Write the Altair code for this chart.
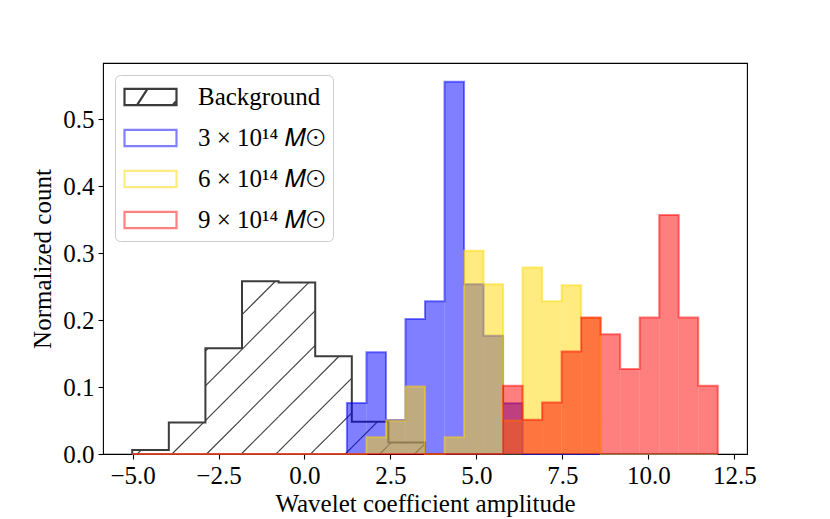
import altair as alt
import numpy as np
import pandas as pd

# ---------------- data ----------------
range_lo = -5.01
range_hi = 12.02

series_names = ["Background", "3 × 10¹⁴ 𝑀⊙", "6 × 10¹⁴ 𝑀⊙", "9 × 10¹⁴ 𝑀⊙"]

# 16 bins over [range_lo, range_hi]
background = [0.006, 0.047, 0.158, 0.258, 0.256, 0.146, 0.048, 0.017,
              0.0, 0.0, 0.0, 0.0, 0.0, 0.0, 0.0, 0.0]

# 30 bins over [range_lo, range_hi]
mass3 = [0.0, 0.0, 0.0, 0.0, 0.0, 0.0, 0.0, 0.0, 0.0, 0.0,
         0.0, 0.076, 0.152, 0.0506, 0.2015, 0.228, 0.556, 0.2537, 0.1766, 0.0759,
         0.0, 0.0, 0.0, 0.0, 0.0, 0.0, 0.0, 0.0, 0.0, 0.0]
mass6 = [0.0, 0.0, 0.0, 0.0, 0.0, 0.0, 0.0, 0.0, 0.0, 0.0,
         0.0, 0.0, 0.025, 0.050, 0.101, 0.0, 0.025, 0.3035, 0.2537, 0.050,
         0.2785, 0.228, 0.252, 0.203, 0.0, 0.0, 0.0, 0.0, 0.0, 0.0]
mass9 = [0.0, 0.0, 0.0, 0.0, 0.0, 0.0, 0.0, 0.0, 0.0, 0.0,
         0.0, 0.0, 0.0, 0.0, 0.0, 0.0, 0.0, 0.0, 0.0, 0.102,
         0.051, 0.077, 0.153, 0.204, 0.179, 0.127, 0.204, 0.357, 0.204, 0.102]

x_ticks = [-5.0, -2.5, 0.0, 2.5, 5.0, 7.5, 10.0, 12.5]
y_ticks = [0.0, 0.1, 0.2, 0.3, 0.4, 0.5]

# ---------------- layout / style ----------------
W, H = 644, 391
x_dom = [-5.86, 12.87]
y_dom = [0.0, 0.584]
FONT = "Liberation Serif"
FS = 25

colors = {"blue": "#0000ff", "gold": "#ffd700", "red": "#ff0000", "edge": "#3c3c3c"}
legend_strokes = ["#3c3c3c", "#8080ff", "#ffeb80", "#ff8080"]

sym_rect = "M-1,-0.65H3.16V0.65H-1Z"
sym_hatch = "M-1,-0.65H3.16V0.65H-1Z M0,0.65L0.84,-0.65 M2.84,0.65L3.11,0.36"


def edges(n):
    return np.linspace(range_lo, range_hi, n + 1)


def bars_df(vals):
    e = edges(len(vals))
    return pd.DataFrame({"a": e[:-1], "b": e[1:], "h": vals})


def step_df(vals):
    e = edges(len(vals))
    xs = [e[0]] + list(e[:-1]) + [e[-1]]
    ys = [0.0] + list(vals) + [0.0]
    return pd.DataFrame({"x": xs, "y": ys, "i": range(len(xs))})


def hatch_df(vals, spacing=1.008, start=-3.855):
    e = edges(len(vals))
    s = (W / (x_dom[1] - x_dom[0])) / (H / (y_dom[1] - y_dom[0]))
    cs = start + spacing * np.arange(-3, 12)
    rows = []
    for a, b, h in zip(e[:-1], e[1:], vals):
        if h <= 0:
            continue
        for c in cs:
            xs0 = max(a, c)
            xs1 = min(b, c + h / s)
            if xs0 < xs1:
                rows.append({"x": xs0, "y": s * (xs0 - c), "x2": xs1, "y2": s * (xs1 - c)})
    return pd.DataFrame(rows)


x_axis = alt.Axis(values=x_ticks, format=".1f", title="Wavelet coefficient amplitude",
                  labelPadding=4, titlePadding=3)
y_axis = alt.Axis(values=y_ticks, format=".1f", title="Normalized count",
                  labelPadding=4, titlePadding=7)
x_scale = alt.Scale(domain=x_dom, nice=False, zero=False)
y_scale = alt.Scale(domain=y_dom, nice=False, zero=False)


def X(f):
    return alt.X(f, type="quantitative", scale=x_scale, axis=x_axis)


def Y(f):
    return alt.Y(f, type="quantitative", scale=y_scale, axis=y_axis)


layers = []

# background: hatch + outline
layers.append(alt.Chart(hatch_df(background)).mark_rule(color=colors["edge"], strokeWidth=1.1).encode(
    x=X("x"), y=Y("y"), x2="x2", y2="y2"))
layers.append(alt.Chart(step_df(background)).mark_line(
    interpolate="step-after", color=colors["edge"], strokeWidth=2).encode(
    x=X("x"), y=Y("y"), order="i:Q"))

for vals, col in [(mass3, colors["blue"]), (mass6, colors["gold"]), (mass9, colors["red"])]:
    layers.append(alt.Chart(bars_df(vals)).mark_rect(color=col, opacity=0.5).encode(
        x=X("a"), x2="b", y=Y("h"), y2=alt.datum(0)))
    layers.append(alt.Chart(step_df(vals)).mark_line(
        interpolate="step-after", color=col, strokeWidth=2, strokeOpacity=0.5).encode(
        x=X("x"), y=Y("y"), order="i:Q"))

# legend carrier (no visible points: positions are null)
leg_df = pd.DataFrame({"series": series_names, "x": [None] * 4, "y": [None] * 4})
legend = alt.Legend(title=None, orient="top-left", offset=12, padding=8, cornerRadius=5,
                    strokeColor="#cccccc", fillColor="white", labelFont=FONT, labelFontSize=FS,
                    labelColor="black", symbolSize=625, symbolStrokeWidth=2.2, labelOffset=47,
                    rowPadding=14, symbolFillColor="transparent", symbolOpacity=1)
layers.append(alt.Chart(leg_df).mark_point(filled=False, strokeWidth=2.2).encode(
    x=X("x"), y=Y("y"),
    shape=alt.Shape("series:N", scale=alt.Scale(domain=series_names,
                    range=[sym_hatch, sym_rect, sym_rect, sym_rect]), legend=legend),
    stroke=alt.Stroke("series:N", scale=alt.Scale(domain=series_names, range=legend_strokes),
                      legend=legend),
))

chart = alt.layer(*layers).properties(
    width=W, height=H,
    padding={"left": 95, "top": 55, "right": 60, "bottom": 66},
    autosize=alt.AutoSizeParams(type="none"),
).configure_view(stroke="black", strokeWidth=1.1).configure_axis(
    grid=False, domain=False, tickColor="black", tickSize=5, tickWidth=1.1,
    labelFont=FONT, labelFontSize=FS, labelColor="black",
    titleFont=FONT, titleFontSize=FS, titleFontWeight="normal", titleColor="black",
)

chart.save("out.html", embed_options={"renderer": "svg", "actions": False})
